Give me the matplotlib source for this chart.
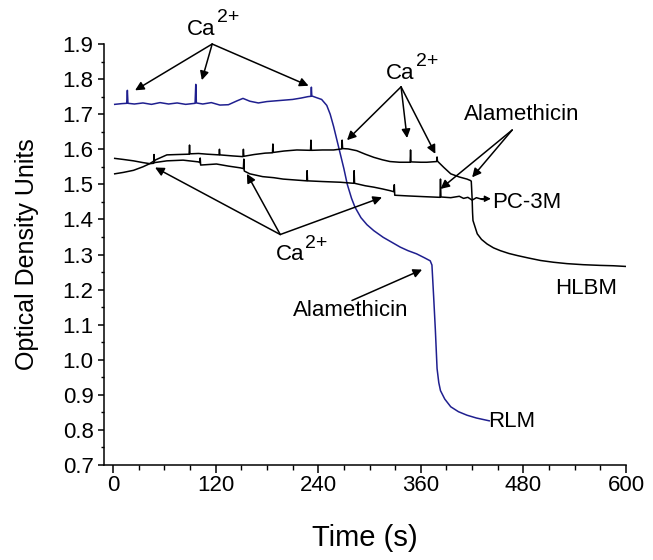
import matplotlib
matplotlib.use("Agg")
import matplotlib.pyplot as plt
from matplotlib.ticker import MultipleLocator, FormatStrFormatter

plt.rcParams['font.family'] = ['Liberation Sans', 'DejaVu Sans']

# RLM trace (blue)
rlm_t = [2, 10, 16, 16.8, 17.5, 25, 35, 45, 55, 65, 75, 85, 96, 96.8, 97.5, 105,
         115, 125, 135, 145, 152, 160, 170, 180, 190, 200, 210, 220, 228, 231.5,
         232, 232.5, 237, 244, 250, 254, 258, 262, 266, 270, 274, 279, 283, 290,
         297, 305, 316, 326, 336, 345, 355, 364, 371, 373, 375, 377, 379, 381,
         383, 388, 395, 404, 414, 425, 440]
rlm_v = [1.728, 1.730, 1.731, 1.768, 1.731, 1.729, 1.732, 1.728, 1.733, 1.729,
         1.732, 1.728, 1.731, 1.785, 1.732, 1.729, 1.733, 1.726, 1.727, 1.738,
         1.745, 1.737, 1.732, 1.736, 1.738, 1.740, 1.742, 1.746, 1.750, 1.751,
         1.777, 1.752, 1.748, 1.742, 1.725, 1.700, 1.665, 1.625, 1.585, 1.545,
         1.500, 1.460, 1.435, 1.405, 1.385, 1.368, 1.349, 1.335, 1.321, 1.311,
         1.302, 1.291, 1.282, 1.270, 1.180, 1.085, 0.975, 0.935, 0.912, 0.888,
         0.866, 0.852, 0.842, 0.834, 0.826]

# HLBM trace
hlbm_t = [2, 12, 24, 35, 43, 50, 63, 75, 89, 89.5, 90, 100, 110, 124, 124.5, 125,
          140, 152, 152.5, 153, 165, 178, 186.5, 187, 187.5, 200, 215, 231, 231.5,
          232, 245, 258, 267.5, 268, 268.5, 275, 285, 295, 305, 315, 324, 335,
          347.5, 348, 348.5, 360, 367, 378.5, 379, 379.5, 387, 395, 405, 414,
          418, 419, 420, 420.5, 421, 426, 431, 437.5, 445, 453, 463, 473, 486,
          500, 515, 531, 550, 570, 585, 600]
hlbm_v = [1.530, 1.534, 1.540, 1.550, 1.559, 1.570, 1.584, 1.585, 1.586, 1.612,
          1.587, 1.588, 1.586, 1.584, 1.600, 1.584, 1.581, 1.579, 1.600, 1.580,
          1.585, 1.589, 1.590, 1.615, 1.591, 1.595, 1.598, 1.597, 1.626, 1.597,
          1.598, 1.598, 1.601, 1.626, 1.602, 1.601, 1.596, 1.586, 1.577, 1.570,
          1.565, 1.563, 1.563, 1.598, 1.564, 1.563, 1.563, 1.565, 1.578, 1.566,
          1.548, 1.530, 1.521, 1.515, 1.511, 1.509, 1.460, 1.420, 1.397, 1.359,
          1.343, 1.330, 1.319, 1.311, 1.303, 1.297, 1.290, 1.283, 1.278, 1.274,
          1.271, 1.269, 1.268, 1.266]

# PC-3M trace
pc3m_t = [2, 12, 24, 35, 43, 47.5, 48, 48.5, 63, 82, 100, 101.5, 102, 102.5, 121,
          135, 149, 152.5, 153, 153.5, 160, 175, 188, 199, 226.5, 227, 227.5, 245,
          266, 281.5, 282, 282.5, 295, 305, 315, 324, 328.5, 329, 329.5, 345, 363,
          382.5, 383, 383.5, 395, 405, 410, 415, 420, 425, 432, 437]
pc3m_v = [1.574, 1.571, 1.567, 1.562, 1.559, 1.560, 1.585, 1.562, 1.567, 1.569,
          1.564, 1.562, 1.575, 1.555, 1.558, 1.552, 1.547, 1.545, 1.572, 1.538,
          1.530, 1.522, 1.519, 1.515, 1.510, 1.539, 1.510, 1.508, 1.506, 1.503,
          1.539, 1.503, 1.496, 1.492, 1.487, 1.482, 1.479, 1.499, 1.469, 1.467,
          1.465, 1.463, 1.515, 1.464, 1.462, 1.466, 1.460, 1.463, 1.455, 1.462,
          1.457, 1.459]

fig = plt.figure(figsize=(6.53, 5.6), dpi=100)
ax = fig.add_axes([0.1593, 0.1696, 0.7994, 0.7518])

ax.plot(rlm_t, rlm_v, color='#1f1f8f', lw=1.1)
ax.plot(hlbm_t, hlbm_v, color='black', lw=1.1)
ax.plot(pc3m_t, pc3m_v, color='black', lw=1.1)

ax.set_xlim(-10.5, 600)
ax.set_ylim(0.7, 1.9)
ax.xaxis.set_major_locator(MultipleLocator(120))
ax.xaxis.set_minor_locator(MultipleLocator(30))
ax.yaxis.set_major_locator(MultipleLocator(0.1))
ax.yaxis.set_minor_locator(MultipleLocator(0.05))
ax.yaxis.set_major_formatter(FormatStrFormatter('%.1f'))
for s in ['top', 'right']:
    ax.spines[s].set_visible(False)
for s in ['left', 'bottom']:
    ax.spines[s].set_linewidth(1.1)
ax.tick_params(axis='both', which='major', direction='out', width=1.1, labelsize=16)
ax.tick_params(axis='y', which='major', length=4.5, pad=3)
ax.tick_params(axis='y', which='minor', length=2.5, width=1.0)
ax.tick_params(axis='x', which='major', length=5.5, pad=2)
ax.tick_params(axis='x', which='minor', length=3.5, width=1.0)

ax.set_xlabel('Time (s)', fontsize=21, labelpad=20)
ax.set_ylabel('Optical Density Units', fontsize=18, labelpad=17)

arrow = dict(arrowstyle='-|>', color='black', lw=1.1, mutation_scale=13,
             shrinkA=0, shrinkB=0)
fs = 16


def ca_label(xy):
    # "Ca" with a large raised "2+" like the original figure
    ax.annotate('Ca', xy=xy, ha='right', va='baseline', fontsize=fs,
                annotation_clip=False)
    ax.annotate('2+', xy=xy, xytext=(0.8, 9), textcoords='offset points',
                ha='left', va='baseline', fontsize=14, annotation_clip=False)


def arrows(origin, targets):
    for tgt in targets:
        ax.annotate('', xy=tgt, xytext=origin, arrowprops=arrow, annotation_clip=False)


ca_label((120, 1.926))
arrows((116, 1.900), [(25.8, 1.768), (103.9, 1.797), (228.7, 1.781)])

ca_label((352.5, 1.801))
arrows((336.9, 1.778), [(273.7, 1.626), (343.9, 1.632), (377, 1.587)])

ca_label((223.6, 1.283))
arrows((195.6, 1.357), [(49.2, 1.548), (156.6, 1.530), (314.6, 1.463)])

ax.text(477.7, 1.698, 'Alamethicin', fontsize=fs, ha='center', va='center')
arrows((466.9, 1.655), [(383, 1.487), (420, 1.520)])

ax.text(277.5, 1.141, 'Alamethicin', fontsize=fs, ha='center', va='center')
arrows((279.5, 1.169), [(361.5, 1.257)])

ax.annotate('', xy=(442, 1.459), xytext=(430, 1.459),
            arrowprops=dict(arrowstyle='-|>', color='black', lw=1.0, mutation_scale=9,
                            shrinkA=0, shrinkB=0))
ax.text(439, 0.825, 'RLM', fontsize=fs, ha='left', va='center')
ax.text(517.6, 1.203, 'HLBM', fontsize=fs, ha='left', va='center')
ax.text(443.8, 1.449, 'PC-3M', fontsize=fs, ha='left', va='center')

fig.savefig('out.png', dpi=100)
